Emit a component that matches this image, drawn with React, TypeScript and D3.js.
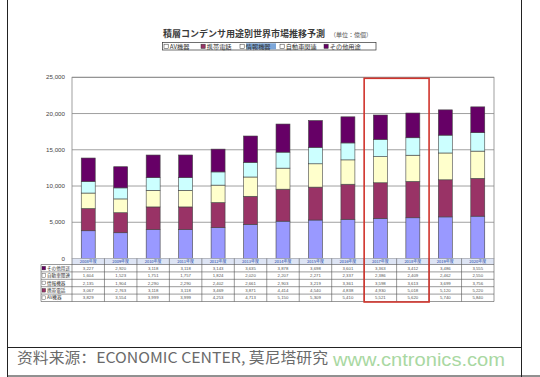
import React from "react";
import * as d3 from "d3";

const years = ["2008年度","2009年度","2010年度","2011年度","2012年度","2013年度","2014年度","2015年度","2016年度","2017年度","2018年度","2019年度","2020年度"];
const seriesNames = ["AV機器", "携帯電話", "情報機器", "自動車関連", "その他用途"];
const avValues = [3829, 3554, 3999, 3999, 4253, 4713, 5150, 5309, 5410, 5521, 5620, 5740, 5840];
const mobileValues = [3067, 2763, 3118, 3118, 3469, 3871, 4414, 4540, 4838, 4930, 5018, 5120, 5220];
const infoValues = [2135, 1904, 2290, 2290, 2402, 2661, 2903, 3219, 3361, 3598, 3613, 3699, 3756];
const autoValues = [1604, 1523, 1751, 1757, 1824, 2020, 2207, 2271, 2337, 2386, 2409, 2462, 2550];
const otherValues = [3227, 2920, 3118, 3118, 3143, 3635, 3878, 3698, 3601, 3363, 3412, 3486, 3555];
const yTicks = [0, 5000, 10000, 15000, 20000, 25000];
const highlightYears = ["2017年度", "2018年度"];
const titleText = "積層コンデンサ用途別世界市場推移予測";
const unitText = "（単位：億個）";
const sourceText = "资料来源：ECONOMIC CENTER, 莫尼塔研究";
const watermarkText = "www.cntronics.com";

const colors = ["#9999FF", "#993366", "#FFFFCC", "#CCFFFF", "#660066"];
const seriesValues = [avValues, mobileValues, infoValues, autoValues, otherValues];

export default function App() {
  const W = 540, H = 377;
  const plotL = 72, plotR = 494, plotT = 77.3, plotB = 258.5;
  const x = d3.scaleBand<string>().domain(years).range([plotL, plotR]).paddingInner(0.57).paddingOuter(0.285);
  const y = d3.scaleLinear().domain([0, 25000]).range([plotB, plotT]);
  const step = x.step();
  const rows = years.map((yr, i) => {
    const r: any = { year: yr };
    seriesNames.forEach((s, k) => (r[s] = seriesValues[k][i]));
    return r;
  });
  const stacked = d3.stack<any>().keys(seriesNames)(rows);
  const fmt = d3.format(",");

  const tabL = 41, headH = 6, rowH = 7.4;
  const tableRows = [4, 3, 2, 1, 0];
  const tabB = plotB + headH + rowH * tableRows.length;

  const hx0 = x(highlightYears[0])! - (step - x.bandwidth()) / 2;
  const hx1 = x(highlightYears[highlightYears.length - 1])! + x.bandwidth() + (step - x.bandwidth()) / 2;

  const legendX = [164, 201, 240, 280, 324];
  const legendFill = ["#fff", "#993366", "#fff", "#fff", "#660066"];

  return (
    <div style={{ position: "absolute", left: 0, top: 0 }}>
      <svg width={W} height={H} style={{ display: "block", background: "#fff" }}>
        <line x1={7.5} x2={7.5} y1={0} y2={H} stroke="#222" strokeWidth={1} />
        <line x1={521.5} x2={521.5} y1={0} y2={H} stroke="#222" strokeWidth={1} />
        <line x1={7} x2={522} y1={347.5} y2={347.5} stroke="#222" strokeWidth={1} />
        <line x1={7} x2={540} y1={376} y2={376} stroke="#222" strokeWidth={1} />

        <text x={163} y={37} fontFamily="'Noto Sans CJK JP'" fontSize={8.8} fontWeight={700} fill="#3a3a3a" textLength={162} lengthAdjust="spacingAndGlyphs">{titleText}</text>
        <text x={330} y={37} fontFamily="'Noto Sans CJK JP'" fontSize={6} fill="#555">{unitText}</text>

        <rect x={162.5} y={42.5} width={213.5} height={7.5} fill="#fff" stroke="#333" strokeWidth={0.7} />
        {seriesNames.map((s, k) => (
          <g key={s}>
            {k === 2 && <rect x={legendX[k] + 6} y={43.3} width={30} height={6} fill="#7DA7D9" />}
            <rect x={legendX[k]} y={44.2} width={4.2} height={4.2} fill={legendFill[k]} stroke="#333" strokeWidth={0.5} />
            <text x={legendX[k] + 5.8} y={48.6} fontFamily="'Noto Sans CJK JP'" fontSize={6.2} fill="#333">{s}</text>
          </g>
        ))}

        <rect x={plotL} y={plotT} width={plotR - plotL} height={plotB - plotT} fill="#fff" stroke="#888" strokeWidth={0.8} />
        {yTicks.map((t) => (
          <g key={t}>
            <line x1={plotL} x2={plotR} y1={y(t)} y2={y(t)} stroke="#888" strokeWidth={0.8} />
            <text x={65} y={y(t) + 2} textAnchor="end" fontFamily="'Liberation Sans', Arial" fontSize={6.2} fill="#444">{fmt(t)}</text>
          </g>
        ))}

        {stacked.map((layer, k) => (
          <g key={layer.key}>
            {layer.map((d, i) => (
              <rect key={i} x={x(years[i])} y={y(d[1])} width={x.bandwidth()} height={y(d[0]) - y(d[1])}
                fill={colors[k]} stroke="#444" strokeWidth={0.6} />
            ))}
          </g>
        ))}

        <g>
          <rect x={plotL} y={plotB} width={plotR - plotL} height={headH} fill="#DDE4F4" />
          {years.map((yr) => (
            <text key={yr} x={x(yr)! + x.bandwidth() / 2} y={plotB + headH - 1.5} textAnchor="middle" fontFamily="'Noto Sans CJK JP'" fontSize={4} fill="#2244AA">{yr}</text>
          ))}
          {tableRows.map((k, r) => {
            const ry = plotB + headH + r * rowH;
            return (
              <g key={k}>
                <rect x={tabL + 1} y={ry + 1.8} width={3.6} height={3.6} fill={k === 0 || k === 2 || k === 3 ? "#fff" : colors[k]} stroke="#333" strokeWidth={0.4} />
                <text x={tabL + 6} y={ry + 5.3} fontFamily="'Noto Sans CJK JP'" fontSize={4.6} fill="#333">{seriesNames[k]}</text>
                {years.map((yr, i) => (
                  <text key={yr} x={x(yr)! + x.bandwidth() / 2} y={ry + 5.2} textAnchor="middle" fontFamily="'Liberation Sans', Arial" fontSize={4.3} fill="#555">{fmt(seriesValues[k][i])}</text>
                ))}
                <line x1={tabL} x2={plotR} y1={ry} y2={ry} stroke="#555" strokeWidth={0.6} />
              </g>
            );
          })}
          <line x1={tabL} x2={plotR} y1={tabB} y2={tabB} stroke="#555" strokeWidth={0.6} />
          <line x1={tabL} x2={tabL} y1={plotB + headH} y2={tabB} stroke="#555" strokeWidth={0.6} />
          {d3.range(years.length + 1).map((i) => (
            <line key={i} x1={plotL + i * step} x2={plotL + i * step} y1={plotB} y2={tabB} stroke="#555" strokeWidth={0.6} />
          ))}
        </g>

        <rect x={hx0} y={78.3} width={hx1 - hx0} height={302 - 78.3} fill="none" stroke="#D0342C" strokeWidth={1.6} />

        <text x={17} y={362.5} fontFamily="'Noto Sans CJK SC'" fontSize={14.5} fill="#6a6a6a" textLength={311} lengthAdjust="spacingAndGlyphs">{sourceText}</text>
        <text x={333} y={366} fontFamily="'Liberation Sans', Arial" fontSize={17.5} fill="#A9D8A2" textLength={172} lengthAdjust="spacingAndGlyphs">{watermarkText}</text>
      </svg>
    </div>
  );
}
